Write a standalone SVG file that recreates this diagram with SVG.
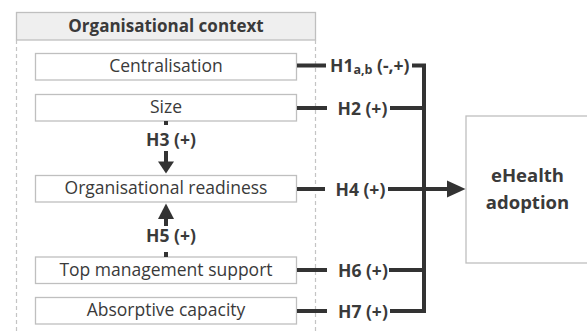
<svg xmlns="http://www.w3.org/2000/svg" width="587" height="333" viewBox="0 0 587 333">
<style>
.box{fill:#fff;stroke:#bfbfbf;stroke-width:1.3}
.t{font-family:"Open Sans","Noto Sans",sans-serif;font-size:17.5px;fill:#3a3a3a;text-anchor:middle}
.b{font-family:"Open Sans","Noto Sans",sans-serif;font-weight:bold;fill:#3a3a3a}
.lbl{font-size:17.5px}
.ln{stroke:#333;stroke-width:4;fill:none}
.dash{stroke:#c4c4c4;stroke-width:1.2;stroke-dasharray:4 3;fill:none}
.ah{fill:#333}
</style>
<g id="context">
<rect x="16.5" y="12.5" width="299" height="27.5" fill="#efefef" stroke="#bfbfbf" stroke-width="1.3"/>
<text class="b" x="166" y="32" font-size="17px" text-anchor="middle">Organisational context</text>
<line class="dash" x1="16.5" y1="40" x2="16.5" y2="333"/>
<line class="dash" x1="315.5" y1="40" x2="315.5" y2="333"/>
</g>
<g id="centralisation"><rect class="box" x="35.5" y="53.5" width="261" height="26.5"/><text class="t" x="166" y="72">Centralisation</text></g>
<g id="size"><rect class="box" x="35.5" y="94.5" width="261" height="26.5"/><text class="t" x="166" y="113">Size</text></g>
<g id="readiness"><rect class="box" x="35.5" y="175.5" width="261" height="26.5"/><text class="t" x="166" y="194">Organisational readiness</text></g>
<g id="topmgmt"><rect class="box" x="35.5" y="257" width="261" height="26.5"/><text class="t" x="166" y="275.5">Top management support</text></g>
<g id="absorptive"><rect class="box" x="35.5" y="297.5" width="261" height="26.5"/><text class="t" x="166" y="316">Absorptive capacity</text></g>
<g id="ehealth"><rect class="box" x="466" y="116" width="125" height="147"/>
<text class="b" x="527.5" y="181.5" font-size="18.5px" text-anchor="middle">eHealth</text>
<text class="b" x="527.5" y="209" font-size="18.5px" text-anchor="middle">adoption</text></g>
<g id="connectors">
<path class="ln" d="M297 65.5H326M412 65.5H424V311.5M297 108H327M390 108H424M297 189H325M388 189H450M297 270H327M389 270H424M297 311H327M390 311H426"/>
<polygon class="ah" points="447,180.5 465.5,189 447,197.5"/>
<line class="ln" x1="166" y1="121" x2="166" y2="125"/>
<line class="ln" x1="166" y1="151" x2="166" y2="163"/>
<polygon class="ah" points="158,161.5 174,161.5 166,173.5"/>
<line class="ln" x1="166" y1="217" x2="166" y2="226"/>
<polygon class="ah" points="158,219 174,219 166,203.5"/>
<line class="ln" x1="166" y1="252" x2="166" y2="257"/>
</g>
<g id="labels">
<text class="b lbl" x="330" y="71.5">H1<tspan font-size="12.5px" dy="2">a,b</tspan><tspan dy="-2"> (-,+)</tspan></text>
<text class="b lbl" x="337.5" y="114.5">H2 (+)</text>
<text class="b lbl" x="171" y="145.5" text-anchor="middle">H3 (+)</text>
<text class="b lbl" x="335.5" y="195.5">H4 (+)</text>
<text class="b lbl" x="171" y="242" text-anchor="middle">H5 (+)</text>
<text class="b lbl" x="338" y="276.5">H6 (+)</text>
<text class="b lbl" x="338" y="317.5">H7 (+)</text>
</g>
</svg>
